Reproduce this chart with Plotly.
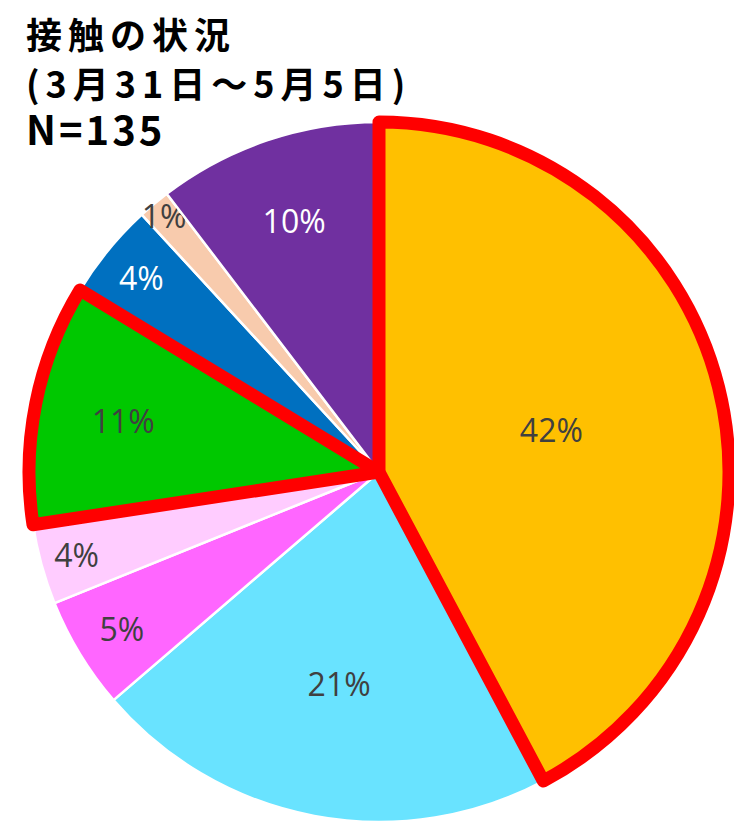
"""Pie chart: 接触の状況 (3/31 - 5/5), N=135."""

import plotly.graph_objects as go

W, H = 742, 826
PAGE_OFFSET = 8  # body margin of the written html page

# ── data (counts, N=135) ────────────────────────────────────────────
CATEGORIES = ["区分A", "区分B", "区分C", "区分D", "区分E", "区分F", "区分G", "区分H"]
COUNTS = [57, 29, 7, 5, 15, 6, 2, 14]
COLORS = ["#FFC000", "#69E3FF", "#FF66FF", "#FFCCFF",
          "#00C800", "#0070C0", "#F8CBAD", "#7030A0"]
HIGHLIGHT = ["区分A", "区分E"]  # slices outlined in red

TITLE_LINES = ["接触の状況", "(3月31日～5月5日)", "N=135"]

GREY = "#404040"
TEXT_COLORS = ["white" if c in ("#0070C0", "#7030A0") else GREY for c in COLORS]

# pie centre (379, 473) px on the page, radius 350 px
cx, cy, r = 379 - PAGE_OFFSET, 473 - PAGE_OFFSET - 1, 350
DOMAIN = dict(x=[(cx - r) / W, (cx + r) / W],
              y=[(H - cy - r) / H, (H - cy + r) / H])

fig = go.Figure()

fig.add_trace(go.Pie(
    labels=CATEGORIES, values=COUNTS,
    sort=False, direction="clockwise", rotation=0,
    marker=dict(colors=COLORS, line=dict(color="white", width=2.5)),
    texttemplate="%{percent:.0%}",
    textposition="inside", insidetextorientation="horizontal",
    textfont=dict(family="Open Sans", size=32, color=TEXT_COLORS),
    hoverinfo="label+value+percent",
    domain=DOMAIN, showlegend=False,
))

# red outline drawn on top so neighbouring slices don't cover it
fig.add_trace(go.Pie(
    labels=CATEGORIES, values=COUNTS,
    sort=False, direction="clockwise", rotation=0,
    marker=dict(
        colors=["rgba(0,0,0,0)"] * len(COUNTS),
        line=dict(
            color=["#FF0000" if c in HIGHLIGHT else "rgba(0,0,0,0)" for c in CATEGORIES],
            width=[13 if c in HIGHLIGHT else 0 for c in CATEGORIES],
        ),
    ),
    textinfo="none", hoverinfo="skip",
    domain=DOMAIN, showlegend=False,
))

# title, one annotation per line (wide look via letter spacing)
title_style = [  # (font size, letter spacing px, top of line box in px on the figure)
    (36, 6, -3),
    (36, 6, 46),
    (40, 3, 89),
]
for text, (size, spacing, top) in zip(TITLE_LINES, title_style):
    fig.add_annotation(
        text=f'<span style="letter-spacing:{spacing}px">{text}</span>',
        xref="paper", yref="paper",
        x=(24 - PAGE_OFFSET) / W, y=1 - top / H,
        xanchor="left", yanchor="top", align="left", showarrow=False,
        font=dict(family="Noto Sans CJK JP", size=size, color="black", weight="bold"),
    )

fig.update_layout(
    width=W, height=H,
    paper_bgcolor="white", plot_bgcolor="white",
    margin=dict(l=0, r=0, t=0, b=0),
    uniformtext=dict(minsize=32, mode="show"),
    showlegend=False,
)

fig.write_html("out.html")
